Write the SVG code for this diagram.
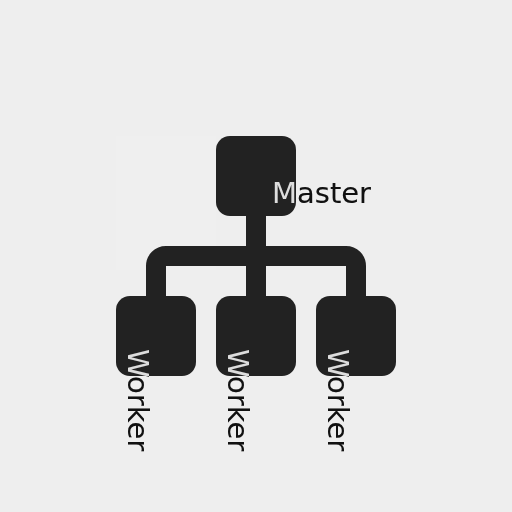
<svg xmlns="http://www.w3.org/2000/svg" width="512" height="512" viewBox="0 0 512 512">
  <style>
    .box { fill: #222222; }
    .lbl { font-family: "DejaVu Sans", sans-serif; font-size: 29px; fill: #ffffff; mix-blend-mode: difference; }
    .conn { fill: none; stroke: #222222; stroke-width: 20; stroke-linecap: butt; stroke-linejoin: miter; }
  </style>
  <rect x="0" y="0" width="512" height="512" fill="#eeeeee"/>
  <rect x="116" y="136" width="100" height="134" fill="#efefef"/>
  <g id="connectors">
    <path class="conn" d="M256,216 V296"/>
    <path class="conn" d="M156,296 V266 A10,10 0 0 1 166,256 H346 A10,10 0 0 1 356,266 V296"/>
  </g>
  <g id="master">
    <rect class="box" x="216" y="136" width="80" height="80" rx="14"/>
  </g>
  <g id="worker1">
    <rect class="box" x="116" y="296" width="80" height="80" rx="14"/>
  </g>
  <g id="worker2">
    <rect class="box" x="216" y="296" width="80" height="80" rx="14"/>
  </g>
  <g id="worker3">
    <rect class="box" x="316" y="296" width="80" height="80" rx="14"/>
  </g>
  <g id="labels">
    <text class="lbl" x="272" y="203">Master</text>
    <text class="lbl" transform="translate(128,349) rotate(90)">Worker</text>
    <text class="lbl" transform="translate(228,349) rotate(90)">Worker</text>
    <text class="lbl" transform="translate(328,349) rotate(90)">Worker</text>
  </g>
</svg>
